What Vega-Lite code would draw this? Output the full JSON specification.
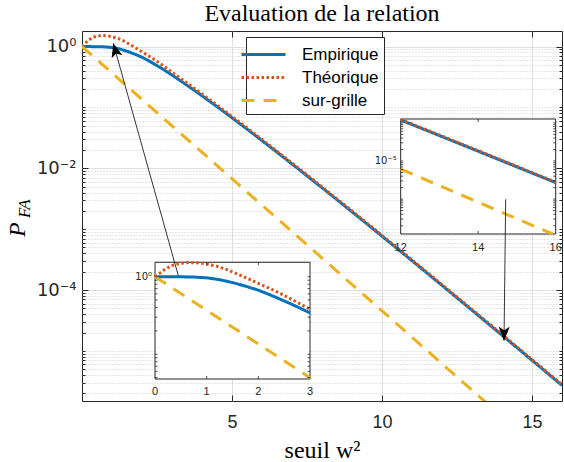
{
  "$schema": "https://vega.github.io/schema/vega-lite/v6.json",
  "width": 480,
  "height": 370,
  "autosize": {"type": "none"},
  "padding": {"left": 82, "top": 31, "right": 2, "bottom": 61},
  "background": "white",
  "title": {"text": "Evaluation de la relation", "font": "Liberation Serif", "fontSize": 24, "fontWeight": "normal", "color": "black", "anchor": "middle", "offset": 5},
  "config": {
    "view": {"stroke": "#262626", "strokeWidth": 1},
    "axis": {"domain": false, "labelFont": "Liberation Sans", "labelColor": "#262626", "labelFontSize": 18, "labelOverlap": false, "labelBound": false, "labelFlush": false},
    "legend": {"symbolType": "M-2,0L2,0", "symbolSize": 484, "symbolStrokeWidth": 3, "labelFont": "Liberation Sans", "labelFontSize": 17, "labelColor": "black", "padding": 5, "strokeColor": "#262626", "fillColor": "white", "rowPadding": 2, "labelOffset": 26, "cornerRadius": 0}
  },
  "datasets": {
    "main": [
      {"x": 0, "y": 1, "s": "Empirique"}, {"x": 0.25, "y": 1, "s": "Empirique"}, {"x": 0.5, "y": 0.997, "s": "Empirique"}, {"x": 0.75, "y": 0.988, "s": "Empirique"},
      {"x": 1, "y": 0.968, "s": "Empirique"}, {"x": 1.25, "y": 0.915, "s": "Empirique"}, {"x": 1.5, "y": 0.84, "s": "Empirique"}, {"x": 1.75, "y": 0.755, "s": "Empirique"},
      {"x": 2, "y": 0.67, "s": "Empirique"}, {"x": 2.25, "y": 0.575, "s": "Empirique"}, {"x": 2.5, "y": 0.487, "s": "Empirique"}, {"x": 2.75, "y": 0.41, "s": "Empirique"},
      {"x": 3, "y": 0.341, "s": "Empirique"}, {"x": 3.5, "y": 0.2322, "s": "Empirique"}, {"x": 4, "y": 0.1557, "s": "Empirique"}, {"x": 4.5, "y": 0.1032, "s": "Empirique"},
      {"x": 5, "y": 0.0677, "s": "Empirique"}, {"x": 5.5, "y": 0.0441, "s": "Empirique"}, {"x": 6, "y": 0.02856, "s": "Empirique"}, {"x": 6.5, "y": 0.01839, "s": "Empirique"},
      {"x": 7, "y": 0.01179, "s": "Empirique"}, {"x": 7.5, "y": 0.00753, "s": "Empirique"}, {"x": 8, "y": 0.004795, "s": "Empirique"}, {"x": 8.5, "y": 0.003044, "s": "Empirique"},
      {"x": 9, "y": 0.001927, "s": "Empirique"}, {"x": 9.5, "y": 0.001217, "s": "Empirique"}, {"x": 10, "y": 0.000767, "s": "Empirique"}, {"x": 10.5, "y": 0.0004827, "s": "Empirique"},
      {"x": 11, "y": 0.0003032, "s": "Empirique"}, {"x": 11.5, "y": 0.0001901, "s": "Empirique"}, {"x": 12, "y": 0.000119, "s": "Empirique"}, {"x": 12.5, "y": 7.445e-5, "s": "Empirique"},
      {"x": 13, "y": 4.65e-5, "s": "Empirique"}, {"x": 13.5, "y": 2.902e-5, "s": "Empirique"}, {"x": 14, "y": 1.809e-5, "s": "Empirique"}, {"x": 14.5, "y": 1.126e-5, "s": "Empirique"},
      {"x": 15, "y": 7.006e-6, "s": "Empirique"}, {"x": 15.5, "y": 4.356e-6, "s": "Empirique"}, {"x": 16, "y": 2.705e-6, "s": "Empirique"},
      {"x": 0, "y": 1, "s": "Théorique"}, {"x": 0.1, "y": 1.12, "s": "Théorique"}, {"x": 0.2, "y": 1.26, "s": "Théorique"}, {"x": 0.35, "y": 1.41, "s": "Théorique"},
      {"x": 0.5, "y": 1.49, "s": "Théorique"}, {"x": 0.65, "y": 1.52, "s": "Théorique"}, {"x": 0.8, "y": 1.51, "s": "Théorique"}, {"x": 1, "y": 1.46, "s": "Théorique"},
      {"x": 1.2, "y": 1.36, "s": "Théorique"}, {"x": 1.4, "y": 1.23, "s": "Théorique"}, {"x": 1.6, "y": 1.08, "s": "Théorique"}, {"x": 1.8, "y": 0.945, "s": "Théorique"},
      {"x": 2, "y": 0.82, "s": "Théorique"}, {"x": 2.2, "y": 0.715, "s": "Théorique"}, {"x": 2.4, "y": 0.62, "s": "Théorique"}, {"x": 2.6, "y": 0.53, "s": "Théorique"},
      {"x": 2.8, "y": 0.45, "s": "Théorique"}, {"x": 3, "y": 0.379, "s": "Théorique"}, {"x": 3.5, "y": 0.2525, "s": "Théorique"}, {"x": 4, "y": 0.1668, "s": "Théorique"},
      {"x": 4.5, "y": 0.1093, "s": "Théorique"}, {"x": 5, "y": 0.07116, "s": "Théorique"}, {"x": 5.5, "y": 0.0461, "s": "Théorique"}, {"x": 6, "y": 0.02972, "s": "Théorique"},
      {"x": 6.5, "y": 0.01908, "s": "Théorique"}, {"x": 7, "y": 0.01221, "s": "Théorique"}, {"x": 7.5, "y": 0.007789, "s": "Théorique"}, {"x": 8, "y": 0.004953, "s": "Théorique"},
      {"x": 8.5, "y": 0.003142, "s": "Théorique"}, {"x": 9, "y": 0.001988, "s": "Théorique"}, {"x": 9.5, "y": 0.001255, "s": "Théorique"}, {"x": 10, "y": 0.0007908, "s": "Théorique"},
      {"x": 10.5, "y": 0.0004974, "s": "Théorique"}, {"x": 11, "y": 0.0003124, "s": "Théorique"}, {"x": 11.5, "y": 0.0001959, "s": "Théorique"}, {"x": 12, "y": 0.0001226, "s": "Théorique"},
      {"x": 12.5, "y": 7.67e-5, "s": "Théorique"}, {"x": 13, "y": 4.79e-5, "s": "Théorique"}, {"x": 13.5, "y": 2.989e-5, "s": "Théorique"}, {"x": 14, "y": 1.863e-5, "s": "Théorique"},
      {"x": 14.5, "y": 1.16e-5, "s": "Théorique"}, {"x": 15, "y": 7.217e-6, "s": "Théorique"}, {"x": 15.5, "y": 4.486e-6, "s": "Théorique"}, {"x": 16, "y": 2.787e-6, "s": "Théorique"},
      {"x": 0, "y": 1, "s": "sur-grille"}, {"x": 3, "y": 0.04979, "s": "sur-grille"}, {"x": 12, "y": 6.144e-6, "s": "sur-grille"}, {"x": 15.92, "y": 1.2155e-7, "s": "sur-grille"}, {"x": 16, "y": 1.1254e-7, "s": "sur-grille"}
    ],
    "in1y": [
      {"v": 0.05}, {"v": 0.06}, {"v": 0.07}, {"v": 0.08}, {"v": 0.09}, {"v": 0.1}, {"v": 0.2}, {"v": 0.3}, {"v": 0.4}, {"v": 0.5}, {"v": 0.6}, {"v": 0.7}, {"v": 0.8}, {"v": 0.9}, {"v": 1}
    ],
    "in2y": [
      {"v": 2e-7}, {"v": 3e-7}, {"v": 4e-7}, {"v": 5e-7}, {"v": 6e-7}, {"v": 7e-7}, {"v": 8e-7}, {"v": 9e-7},
      {"v": 1e-6}, {"v": 2e-6}, {"v": 3e-6}, {"v": 4e-6}, {"v": 5e-6}, {"v": 6e-6}, {"v": 7e-6}, {"v": 8e-6}, {"v": 9e-6},
      {"v": 1e-5}, {"v": 2e-5}, {"v": 3e-5}, {"v": 4e-5}, {"v": 5e-5}, {"v": 6e-5}, {"v": 7e-5}, {"v": 8e-5}, {"v": 9e-5}, {"v": 0.0001}
    ]
  },
  "layer": [
    {
      "layer": [
        {
          "data": {"name": "main"},
          "mark": {"type": "line", "clip": true, "strokeWidth": 3},
          "encoding": {
            "x": {"field": "x", "type": "quantitative", "scale": {"domain": [0, 16], "nice": false, "zero": false},
              "axis": {"orient": "bottom", "values": [5, 10, 15], "ticks": false, "grid": true, "gridColor": "#dfdfdf", "labelPadding": 12, "title": "seuil w²", "titleFont": "Liberation Serif", "titleFontSize": 24, "titleFontWeight": "normal", "titleColor": "black", "titleBaseline": "alphabetic", "titleY": 56}},
            "y": {"field": "y", "type": "quantitative", "scale": {"type": "log", "domain": [1.4992e-6, 1.8046], "nice": false},
              "axis": {"orient": "left", "values": [2e-6,3e-6,4e-6,5e-6,6e-6,7e-6,8e-6,9e-6,1e-5,2e-5,3e-5,4e-5,5e-5,6e-5,7e-5,8e-5,9e-5,0.0001,0.0002,0.0003,0.0004,0.0005,0.0006,0.0007,0.0008,0.0009,0.001,0.002,0.003,0.004,0.005,0.006,0.007,0.008,0.009,0.01,0.02,0.03,0.04,0.05,0.06,0.07,0.08,0.09,0.1,0.2,0.3,0.4,0.5,0.6,0.7,0.8,0.9,1],
                "labelExpr": "datum.value == 1 ? '10⁰' : datum.value == 0.01 ? '10⁻²' : datum.value == 0.0001 ? '10⁻⁴' : ''",
                "labelFont": "DejaVu Sans", "labelFontSize": 18,
                "ticks": false, "grid": true,
                "gridColor": {"condition": {"test": "datum.value == 1 || datum.value == 0.01 || datum.value == 0.0001", "value": "#dfdfdf"}, "value": "#cccccc"},
                "gridDash": {"condition": {"test": "datum.value == 1 || datum.value == 0.01 || datum.value == 0.0001", "value": []}, "value": [1, 2]},
                "labelPadding": 6, "title": null}},
            "color": {"field": "s", "type": "nominal", "scale": {"domain": ["Empirique", "Théorique", "sur-grille"], "range": ["#0072BD", "#D95319", "#EDB120"]}, "legend": {"orient": "none", "legendX": 164, "legendY": 6, "title": null}},
            "strokeDash": {"field": "s", "type": "nominal", "scale": {"domain": ["Empirique", "Théorique", "sur-grille"], "range": [[1, 0], [2.5, 2.5], [13, 9]]}, "legend": {"orient": "none", "legendX": 164, "legendY": 6, "title": null}}
          }
        },
        {
          "data": {"name": "main"},
          "mark": {"type": "point", "opacity": 0},
          "encoding": {
            "x": {"field": "x", "type": "quantitative", "scale": {"domain": [0, 16], "nice": false, "zero": false},
              "axis": {"orient": "bottom", "values": [5, 10, 15], "labels": false, "grid": false, "ticks": true, "tickSize": -6, "tickColor": "#262626", "title": null}},
            "y": {"field": "y", "type": "quantitative", "scale": {"type": "log", "domain": [1.4992e-6, 1.8046], "nice": false},
              "axis": {"orient": "left", "values": [2e-6,3e-6,4e-6,5e-6,6e-6,7e-6,8e-6,9e-6,1e-5,2e-5,3e-5,4e-5,5e-5,6e-5,7e-5,8e-5,9e-5,0.0001,0.0002,0.0003,0.0004,0.0005,0.0006,0.0007,0.0008,0.0009,0.001,0.002,0.003,0.004,0.005,0.006,0.007,0.008,0.009,0.01,0.02,0.03,0.04,0.05,0.06,0.07,0.08,0.09,0.1,0.2,0.3,0.4,0.5,0.6,0.7,0.8,0.9,1],
                "labels": false, "grid": false, "ticks": true, "tickColor": "#262626",
                "tickSize": {"condition": {"test": "datum.value == 1 || datum.value == 0.01 || datum.value == 0.0001", "value": -6}, "value": -3},
                "title": null}}
          }
        },
        {
          "data": {"name": "main"},
          "mark": {"type": "point", "opacity": 0},
          "encoding": {
            "x": {"field": "x", "type": "quantitative", "scale": {"domain": [0, 16], "nice": false, "zero": false},
              "axis": {"orient": "top", "values": [5, 10, 15], "labels": false, "grid": false, "ticks": true, "tickSize": -6, "tickColor": "#262626", "title": null}},
            "y": {"field": "y", "type": "quantitative", "scale": {"type": "log", "domain": [1.4992e-6, 1.8046], "nice": false},
              "axis": {"orient": "right", "values": [2e-6,3e-6,4e-6,5e-6,6e-6,7e-6,8e-6,9e-6,1e-5,2e-5,3e-5,4e-5,5e-5,6e-5,7e-5,8e-5,9e-5,0.0001,0.0002,0.0003,0.0004,0.0005,0.0006,0.0007,0.0008,0.0009,0.001,0.002,0.003,0.004,0.005,0.006,0.007,0.008,0.009,0.01,0.02,0.03,0.04,0.05,0.06,0.07,0.08,0.09,0.1,0.2,0.3,0.4,0.5,0.6,0.7,0.8,0.9,1],
                "labels": false, "grid": false, "ticks": true, "tickColor": "#262626",
                "tickSize": {"condition": {"test": "datum.value == 1 || datum.value == 0.01 || datum.value == 0.0001", "value": -6}, "value": -3},
                "title": null}}
          }
        }
      ],
      "resolve": {"axis": {"x": "independent", "y": "independent"}}
    },
    {
      "layer": [
        {
          "data": {"values": [{}]},
          "mark": {"type": "rect", "fill": "white", "stroke": "#262626", "strokeWidth": 1},
          "encoding": {
            "x": {"datum": 0, "type": "quantitative", "scale": {"domain": [-1.4129, 7.877], "nice": false, "zero": false}, "axis": null},
            "x2": {"datum": 3},
            "y": {"datum": 0.04786, "type": "quantitative", "scale": {"type": "log", "domain": [0.02489, 1480], "nice": false}, "axis": null},
            "y2": {"datum": 1.5342}
          }
        },
        {
          "data": {"name": "main"},
          "transform": [{"filter": "datum.x <= 3"}],
          "mark": {"type": "line", "strokeWidth": 3},
          "encoding": {
            "x": {"field": "x", "type": "quantitative", "scale": {"domain": [-1.4129, 7.877], "nice": false, "zero": false}, "axis": null},
            "y": {"field": "y", "type": "quantitative", "scale": {"type": "log", "domain": [0.02489, 1480], "nice": false}, "axis": null},
            "color": {"field": "s", "type": "nominal", "scale": {"domain": ["Empirique", "Théorique", "sur-grille"], "range": ["#0072BD", "#D95319", "#EDB120"]}, "legend": null},
            "strokeDash": {"field": "s", "type": "nominal", "scale": {"domain": ["Empirique", "Théorique", "sur-grille"], "range": [[1, 0], [2.5, 2.5], [13, 9]]}, "legend": null}
          }
        },
        {
          "data": {"values": [{"v": 0}, {"v": 1}, {"v": 2}, {"v": 3}]},
          "mark": {"type": "text", "font": "Liberation Sans", "fontSize": 11, "color": "#262626", "baseline": "alphabetic", "dy": 16.5},
          "encoding": {
            "x": {"field": "v", "type": "quantitative", "scale": {"domain": [-1.4129, 7.877], "nice": false, "zero": false}, "axis": null},
            "y": {"datum": 0.04786, "type": "quantitative", "scale": {"type": "log", "domain": [0.02489, 1480], "nice": false}, "axis": null},
            "text": {"field": "v", "type": "quantitative"}
          }
        },
        {
          "data": {"values": [{}]},
          "mark": {"type": "text", "font": "DejaVu Sans", "fontSize": 10, "color": "#262626", "align": "right", "baseline": "middle", "dx": -3, "text": "10⁰"},
          "encoding": {
            "x": {"datum": 0, "type": "quantitative", "scale": {"domain": [-1.4129, 7.877], "nice": false, "zero": false}, "axis": null},
            "y": {"datum": 1, "type": "quantitative", "scale": {"type": "log", "domain": [0.02489, 1480], "nice": false}, "axis": null}
          }
        },
        {
          "data": {"values": [{"v": 1}, {"v": 2}]},
          "mark": {"type": "point", "shape": "M0,0L0,-1", "size": 36, "filled": false, "stroke": "#262626", "strokeWidth": 0.8, "opacity": 1},
          "encoding": {
            "x": {"field": "v", "type": "quantitative", "scale": {"domain": [-1.4129, 7.877], "nice": false, "zero": false}, "axis": null},
            "y": {"datum": 0.04786, "type": "quantitative", "scale": {"type": "log", "domain": [0.02489, 1480], "nice": false}, "axis": null}
          }
        },
        {
          "data": {"values": [{"v": 1}, {"v": 2}]},
          "mark": {"type": "point", "shape": "M0,0L0,1", "size": 36, "filled": false, "stroke": "#262626", "strokeWidth": 0.8, "opacity": 1},
          "encoding": {
            "x": {"field": "v", "type": "quantitative", "scale": {"domain": [-1.4129, 7.877], "nice": false, "zero": false}, "axis": null},
            "y": {"datum": 1.5342, "type": "quantitative", "scale": {"type": "log", "domain": [0.02489, 1480], "nice": false}, "axis": null}
          }
        },
        {
          "data": {"name": "in1y"},
          "mark": {"type": "point", "shape": "M0,0L1,0", "size": 25, "filled": false, "stroke": "#262626", "strokeWidth": 0.8, "opacity": 1},
          "encoding": {
            "x": {"datum": 0, "type": "quantitative", "scale": {"domain": [-1.4129, 7.877], "nice": false, "zero": false}, "axis": null},
            "y": {"field": "v", "type": "quantitative", "scale": {"type": "log", "domain": [0.02489, 1480], "nice": false}, "axis": null}
          }
        },
        {
          "data": {"name": "in1y"},
          "mark": {"type": "point", "shape": "M0,0L-1,0", "size": 25, "filled": false, "stroke": "#262626", "strokeWidth": 0.8, "opacity": 1},
          "encoding": {
            "x": {"datum": 3, "type": "quantitative", "scale": {"domain": [-1.4129, 7.877], "nice": false, "zero": false}, "axis": null},
            "y": {"field": "v", "type": "quantitative", "scale": {"type": "log", "domain": [0.02489, 1480], "nice": false}, "axis": null}
          }
        }
      ]
    },
    {
      "layer": [
        {
          "data": {"values": [{}]},
          "mark": {"type": "rect", "fill": "white", "stroke": "#262626", "strokeWidth": 1},
          "encoding": {
            "x": {"datum": 12, "type": "quantitative", "scale": {"domain": [3.7755, 16.1626], "nice": false, "zero": false}, "axis": null},
            "x2": {"datum": 16},
            "y": {"datum": 1.2134e-7, "type": "quantitative", "scale": {"type": "log", "domain": [5.02e-12, 0.025834], "nice": false}, "axis": null},
            "y2": {"datum": 1.2659e-4}
          }
        },
        {
          "data": {"name": "main"},
          "transform": [{"filter": "datum.x >= 12 && (datum.s != 'sur-grille' || datum.x <= 15.95)"}],
          "mark": {"type": "line", "strokeWidth": 3},
          "encoding": {
            "x": {"field": "x", "type": "quantitative", "scale": {"domain": [3.7755, 16.1626], "nice": false, "zero": false}, "axis": null},
            "y": {"field": "y", "type": "quantitative", "scale": {"type": "log", "domain": [5.02e-12, 0.025834], "nice": false}, "axis": null},
            "color": {"field": "s", "type": "nominal", "scale": {"domain": ["Empirique", "Théorique", "sur-grille"], "range": ["#0072BD", "#D95319", "#EDB120"]}, "legend": null},
            "strokeDash": {"field": "s", "type": "nominal", "scale": {"domain": ["Empirique", "Théorique", "sur-grille"], "range": [[1, 0], [2.5, 2.5], [13, 9]]}, "legend": null}
          }
        },
        {
          "data": {"values": [{"v": 12}, {"v": 14}, {"v": 16}]},
          "mark": {"type": "text", "font": "Liberation Sans", "fontSize": 11, "color": "#262626", "baseline": "alphabetic", "dy": 17.5},
          "encoding": {
            "x": {"field": "v", "type": "quantitative", "scale": {"domain": [3.7755, 16.1626], "nice": false, "zero": false}, "axis": null},
            "y": {"datum": 1.2134e-7, "type": "quantitative", "scale": {"type": "log", "domain": [5.02e-12, 0.025834], "nice": false}, "axis": null},
            "text": {"field": "v", "type": "quantitative"}
          }
        },
        {
          "data": {"values": [{}]},
          "mark": {"type": "text", "font": "DejaVu Sans", "fontSize": 10, "color": "#262626", "align": "right", "baseline": "middle", "dx": -4, "text": "10⁻⁵"},
          "encoding": {
            "x": {"datum": 12, "type": "quantitative", "scale": {"domain": [3.7755, 16.1626], "nice": false, "zero": false}, "axis": null},
            "y": {"datum": 1e-5, "type": "quantitative", "scale": {"type": "log", "domain": [5.02e-12, 0.025834], "nice": false}, "axis": null}
          }
        },
        {
          "data": {"values": [{"v": 14}]},
          "mark": {"type": "point", "shape": "M0,0L0,-1", "size": 36, "filled": false, "stroke": "#262626", "strokeWidth": 0.8, "opacity": 1},
          "encoding": {
            "x": {"field": "v", "type": "quantitative", "scale": {"domain": [3.7755, 16.1626], "nice": false, "zero": false}, "axis": null},
            "y": {"datum": 1.2134e-7, "type": "quantitative", "scale": {"type": "log", "domain": [5.02e-12, 0.025834], "nice": false}, "axis": null}
          }
        },
        {
          "data": {"values": [{"v": 14}]},
          "mark": {"type": "point", "shape": "M0,0L0,1", "size": 36, "filled": false, "stroke": "#262626", "strokeWidth": 0.8, "opacity": 1},
          "encoding": {
            "x": {"field": "v", "type": "quantitative", "scale": {"domain": [3.7755, 16.1626], "nice": false, "zero": false}, "axis": null},
            "y": {"datum": 1.2659e-4, "type": "quantitative", "scale": {"type": "log", "domain": [5.02e-12, 0.025834], "nice": false}, "axis": null}
          }
        },
        {
          "data": {"name": "in2y"},
          "mark": {"type": "point", "shape": "M0,0L1,0", "size": 25, "filled": false, "stroke": "#262626", "strokeWidth": 0.8, "opacity": 1},
          "encoding": {
            "x": {"datum": 12, "type": "quantitative", "scale": {"domain": [3.7755, 16.1626], "nice": false, "zero": false}, "axis": null},
            "y": {"field": "v", "type": "quantitative", "scale": {"type": "log", "domain": [5.02e-12, 0.025834], "nice": false}, "axis": null}
          }
        },
        {
          "data": {"name": "in2y"},
          "mark": {"type": "point", "shape": "M0,0L-1,0", "size": 25, "filled": false, "stroke": "#262626", "strokeWidth": 0.8, "opacity": 1},
          "encoding": {
            "x": {"datum": 16, "type": "quantitative", "scale": {"domain": [3.7755, 16.1626], "nice": false, "zero": false}, "axis": null},
            "y": {"field": "v", "type": "quantitative", "scale": {"type": "log", "domain": [5.02e-12, 0.025834], "nice": false}, "axis": null}
          }
        }
      ]
    },
    {
      "layer": [
        {
          "data": {"values": [{}]},
          "mark": {"type": "rule", "color": "black", "strokeWidth": 0.8},
          "encoding": {
            "x": {"datum": 3.21, "type": "quantitative", "scale": {"domain": [0, 16], "nice": false, "zero": false}, "axis": null},
            "x2": {"datum": 1.043},
            "y": {"datum": 1.718e-4, "type": "quantitative", "scale": {"type": "log", "domain": [1.4992e-6, 1.8046], "nice": false}, "axis": null},
            "y2": {"datum": 1.133}
          }
        },
        {
          "data": {"values": [{}]},
          "mark": {"type": "point", "shape": "M0,0L0.4,1L0,0.75L-0.4,1Z", "size": 784, "filled": true, "color": "black", "opacity": 1, "angle": 344.4},
          "encoding": {
            "x": {"datum": 1.043, "type": "quantitative", "scale": {"domain": [0, 16], "nice": false, "zero": false}, "axis": null},
            "y": {"datum": 1.133, "type": "quantitative", "scale": {"type": "log", "domain": [1.4992e-6, 1.8046], "nice": false}, "axis": null}
          }
        },
        {
          "data": {"values": [{}]},
          "mark": {"type": "rule", "color": "black", "strokeWidth": 0.8},
          "encoding": {
            "x": {"datum": 14.123, "type": "quantitative", "scale": {"domain": [0, 16], "nice": false, "zero": false}, "axis": null},
            "x2": {"datum": 14.067},
            "y": {"datum": 3.097e-3, "type": "quantitative", "scale": {"type": "log", "domain": [1.4992e-6, 1.8046], "nice": false}, "axis": null},
            "y2": {"datum": 1.469e-5}
          }
        },
        {
          "data": {"values": [{}]},
          "mark": {"type": "point", "shape": "M0,0L0.4,1L0,0.75L-0.4,1Z", "size": 784, "filled": true, "color": "black", "opacity": 1, "angle": 180.7},
          "encoding": {
            "x": {"datum": 14.067, "type": "quantitative", "scale": {"domain": [0, 16], "nice": false, "zero": false}, "axis": null},
            "y": {"datum": 1.469e-5, "type": "quantitative", "scale": {"type": "log", "domain": [1.4992e-6, 1.8046], "nice": false}, "axis": null}
          }
        },
        {
          "data": {"values": [{}]},
          "mark": {"type": "text", "text": "P", "font": "Liberation Serif", "fontStyle": "italic", "fontSize": 24, "angle": 270, "align": "left", "baseline": "alphabetic", "color": "black"},
          "encoding": {
            "x": {"datum": -1.9, "type": "quantitative", "scale": {"domain": [0, 16], "nice": false, "zero": false}, "axis": null},
            "y": {"datum": 7.43e-4, "type": "quantitative", "scale": {"type": "log", "domain": [1.4992e-6, 1.8046], "nice": false}, "axis": null}
          }
        },
        {
          "data": {"values": [{}]},
          "mark": {"type": "text", "text": "FA", "font": "Liberation Serif", "fontStyle": "italic", "fontSize": 17, "angle": 270, "align": "left", "baseline": "alphabetic", "color": "black"},
          "encoding": {
            "x": {"datum": -1.733, "type": "quantitative", "scale": {"domain": [0, 16], "nice": false, "zero": false}, "axis": null},
            "y": {"datum": 1.524e-3, "type": "quantitative", "scale": {"type": "log", "domain": [1.4992e-6, 1.8046], "nice": false}, "axis": null}
          }
        }
      ]
    }
  ],
  "resolve": {"scale": {"x": "independent", "y": "independent"}}
}
